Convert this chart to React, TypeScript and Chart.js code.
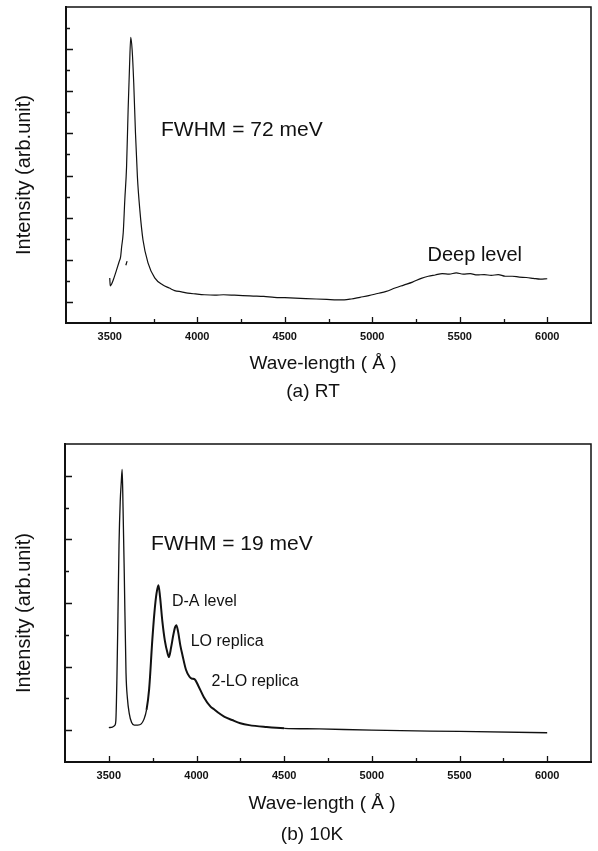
import React, { useEffect, useRef } from "react";
import { Chart, registerables } from "chart.js";

Chart.register(...registerables);

const FONT = 'Arial, "Liberation Sans", Helvetica, sans-serif';

// ---------- data: (a) room temperature ----------
const RT_WAVELENGTH = [
  3500, 3503, 3510, 3520, 3539, 3554, 3562, 3568, 3577, 3586, 3596, 3605, 3613, 3620,
  3628, 3637, 3647, 3658, 3672, 3690, 3719, 3757, 3804, 3840, 3871, 3910, 3946, 3990,
  4041, 4100, 4150, 4212, 4260, 4320, 4380, 4440, 4500, 4560, 4620, 4680, 4740, 4800,
  4840, 4880, 4930, 4980, 5030, 5080, 5130, 5180, 5230, 5280, 5320, 5360, 5400, 5440,
  5480, 5520, 5560, 5600, 5640, 5680, 5720, 5760, 5800, 5840, 5880, 5920, 5960, 6000,
];
const RT_INTENSITY = [
  0.57, 0.38, 0.42, 0.52, 0.76, 0.96, 1.07, 1.31, 1.64, 2.42, 3.2, 4.56, 5.58, 6.28,
  5.98, 5.2, 4.01, 2.97, 2.18, 1.47, 0.92, 0.57, 0.4, 0.33, 0.27, 0.24, 0.21, 0.19,
  0.17, 0.16, 0.17, 0.16, 0.15, 0.14, 0.13, 0.11, 0.1, 0.09, 0.08, 0.07, 0.06, 0.05,
  0.05, 0.07, 0.11, 0.15, 0.2, 0.25, 0.33, 0.4, 0.47, 0.56, 0.61, 0.64, 0.67, 0.66,
  0.69, 0.66, 0.67, 0.64, 0.65, 0.63, 0.65, 0.61, 0.61, 0.59, 0.58, 0.56, 0.54, 0.55,
];
// small stray stroke next to the rising edge
const RT_MARK_WAVELENGTH = [3592, 3599];
const RT_MARK_INTENSITY = [0.87, 0.97];

// ---------- data: (b) 10 K ----------
const K10_WAVELENGTH = [
  3500, 3520, 3535, 3540, 3546, 3552, 3558, 3565, 3571, 3576, 3581, 3588, 3598, 3606,
  3616, 3630, 3645, 3665, 3685, 3700, 3715, 3730, 3748, 3760, 3772, 3783, 3792, 3805,
  3820, 3834, 3843, 3855, 3868, 3878, 3885, 3895, 3908, 3920, 3940, 3960, 3975, 3990,
  4010, 4042, 4080, 4100, 4127, 4160, 4203, 4250, 4300, 4400, 4500, 4700, 5000, 5500, 6000,
];
const K10_INTENSITY = [
  0.04, 0.05, 0.08, 0.15, 0.8, 1.8, 2.9, 3.6, 3.9, 4.1, 3.5, 2.47, 0.9, 0.5,
  0.27, 0.12, 0.08, 0.08, 0.1, 0.17, 0.32, 0.65, 1.42, 1.85, 2.15, 2.28, 2.1, 1.72,
  1.4, 1.22, 1.15, 1.3, 1.5, 1.62, 1.65, 1.55, 1.33, 1.18, 0.95, 0.84, 0.81, 0.8,
  0.7, 0.52, 0.37, 0.33, 0.27, 0.21, 0.16, 0.11, 0.08, 0.05, 0.03, 0.02, 0.0, -0.02, -0.04,
];

const X_TICK_LABELS = ["3500", "4000", "4500", "5000", "5500", "6000"];

const Y_TITLE = "Intensity (arb.unit)";
const X_TITLE = "Wave-length ( Å )";

type Note = { text: string; x: number; y: number; size: number };

type PanelCfg = {
  height: number;
  top: number;
  padTop: number;
  padLeft: number;
  padBottom: number;
  yMax: number;
  caption: string;
  xTitleOffset: number;
  captionOffset: number;
  notes: Note[];
  datasets: any[];
};

const toPoints = (xs: number[], ys: number[]) => xs.map((x, i) => ({ x, y: ys[i] }));

function makeFramePlugin(cfg: PanelCfg) {
  return {
    id: "frameTicks",
    afterDraw(chart: any) {
      const { ctx, chartArea: a, scales } = chart;
      const xs = scales.x;
      const ys = scales.y;
      ctx.save();
      ctx.strokeStyle = "#111";
      ctx.lineCap = "square";
      // frame
      ctx.lineWidth = 1.5;
      ctx.beginPath();
      ctx.moveTo(a.left, a.top);
      ctx.lineTo(a.right, a.top);
      ctx.lineTo(a.right, a.bottom);
      ctx.stroke();
      ctx.lineWidth = 2;
      ctx.beginPath();
      ctx.moveTo(a.left, a.top);
      ctx.lineTo(a.left, a.bottom);
      ctx.lineTo(a.right, a.bottom);
      ctx.stroke();
      // inward ticks
      ctx.lineWidth = 1.3;
      ctx.lineCap = "butt";
      ctx.beginPath();
      xs.ticks.forEach((t: any) => {
        if (t.value <= xs.min || t.value >= xs.max) return;
        const px = Math.round(xs.getPixelForValue(t.value)) + 0.5;
        const len = t.value % 500 === 0 ? 6 : 4;
        ctx.moveTo(px, a.bottom);
        ctx.lineTo(px, a.bottom - len);
      });
      ys.ticks.forEach((t: any) => {
        if (t.value <= ys.min || t.value >= ys.max) return;
        const py = Math.round(ys.getPixelForValue(t.value)) + 0.5;
        const len = Number.isInteger(t.value) ? 7 : 4;
        ctx.moveTo(a.left, py);
        ctx.lineTo(a.left + len, py);
      });
      ctx.stroke();

      ctx.fillStyle = "#111";
      // annotations in data coordinates
      ctx.textAlign = "left";
      ctx.textBaseline = "middle";
      cfg.notes.forEach((n) => {
        ctx.font = `${n.size}px ${FONT}`;
        ctx.fillText(n.text, xs.getPixelForValue(n.x), ys.getPixelForValue(n.y));
      });
      // axis titles and caption
      ctx.textAlign = "center";
      ctx.font = `20px ${FONT}`;
      ctx.save();
      ctx.translate(24, (a.top + a.bottom) / 2 + 10);
      ctx.rotate(-Math.PI / 2);
      ctx.fillText(Y_TITLE, 0, 0);
      ctx.restore();
      ctx.font = `19px ${FONT}`;
      ctx.fillText(X_TITLE, a.left + 257, a.bottom + cfg.xTitleOffset);
      ctx.fillText(cfg.caption, a.left + 247, a.bottom + cfg.captionOffset);
      ctx.restore();
    },
  };
}

function Panel({ cfg }: { cfg: PanelCfg }) {
  const ref = useRef<HTMLCanvasElement>(null);
  useEffect(() => {
    const chart = new Chart(ref.current as HTMLCanvasElement, {
      type: "line",
      data: { datasets: cfg.datasets },
      options: {
        animation: false,
        responsive: false,
        devicePixelRatio: 1,
        layout: {
          padding: { left: cfg.padLeft, right: 2, top: cfg.padTop, bottom: cfg.padBottom },
        },
        plugins: {
          legend: { display: false },
          tooltip: { enabled: false },
          title: { display: false },
        },
        elements: { point: { radius: 0 } },
        scales: {
          x: {
            type: "linear",
            min: 3250,
            max: 6250,
            grid: { display: false, drawTicks: false },
            border: { display: false },
            afterFit: (s: any) => {
              s.height = 30;
            },
            ticks: {
              stepSize: 250,
              autoSkip: false,
              maxRotation: 0,
              padding: 7,
              color: "#111",
              font: { family: FONT, size: 11, weight: "bold" },
              callback: (v: any) => (X_TICK_LABELS.includes(String(v)) ? String(v) : ""),
            },
          },
          y: {
            type: "linear",
            display: false,
            min: -0.5,
            max: cfg.yMax,
            ticks: { stepSize: 0.5 },
          },
        },
      },
      plugins: [makeFramePlugin(cfg)],
    } as any);
    return () => chart.destroy();
  }, []);
  return (
    <canvas
      ref={ref}
      width={598}
      height={cfg.height}
      style={{ position: "absolute", left: 0, top: cfg.top, width: 598, height: cfg.height }}
    />
  );
}

const panelA: PanelCfg = {
  height: 420,
  top: 0,
  padTop: 7,
  padLeft: 66,
  padBottom: 420 - 323 - 30,
  yMax: 7,
  caption: "(a) RT",
  xTitleOffset: 41,
  captionOffset: 69,
  notes: [
    { text: "FWHM = 72 meV", x: 3793, y: 4.08, size: 21 },
    { text: "Deep level", x: 5316, y: 1.11, size: 20 },
  ],
  datasets: [
    {
      label: "RT",
      data: toPoints(RT_WAVELENGTH, RT_INTENSITY),
      borderColor: "#111",
      borderWidth: 1.2,
      cubicInterpolationMode: "monotone",
      pointRadius: 0,
    },
    {
      label: "mark",
      data: toPoints(RT_MARK_WAVELENGTH, RT_MARK_INTENSITY),
      borderColor: "#111",
      borderWidth: 1.2,
      pointRadius: 0,
    },
  ],
};

const panelB: PanelCfg = {
  height: 431,
  top: 420,
  padTop: 24,
  padLeft: 65,
  padBottom: 431 - 342 - 30,
  yMax: 4.5,
  caption: "(b) 10K",
  xTitleOffset: 42,
  captionOffset: 73,
  notes: [
    { text: "FWHM = 19 meV", x: 3741, y: 2.93, size: 21 },
    { text: "D-A level", x: 3860, y: 2.02, size: 16 },
    { text: "LO replica", x: 3967, y: 1.4, size: 16 },
    { text: "2-LO replica", x: 4086, y: 0.77, size: 16 },
  ],
  datasets: [
    {
      label: "10K",
      data: toPoints(K10_WAVELENGTH, K10_INTENSITY),
      borderColor: "#111",
      borderWidth: 1.2,
      cubicInterpolationMode: "monotone",
      pointRadius: 0,
      segment: {
        borderWidth: (c: any) => (c.p0.parsed.x > 3700 && c.p0.parsed.x < 4500 ? 2 : 1.3),
      },
    },
  ],
};

export default function App() {
  return (
    <div
      style={{
        position: "absolute",
        left: 0,
        top: 0,
        width: 598,
        height: 851,
        background: "#fff",
        overflow: "hidden",
      }}
    >
      <Panel cfg={panelA} />
      <Panel cfg={panelB} />
    </div>
  );
}
